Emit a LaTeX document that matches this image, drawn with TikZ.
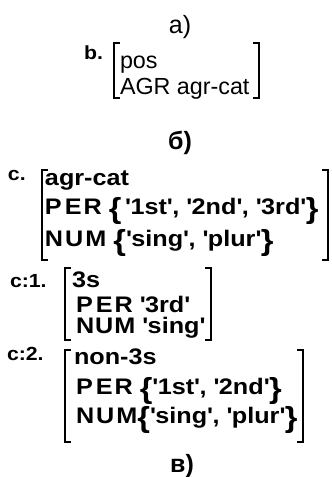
\documentclass[tikz,border=0pt]{standalone}
\usepackage{fontspec}
\setmainfont{Liberation Sans}
\newfontfamily\avmfont{Liberation Sans}[FakeStretch=1.12]
\newcommand{\avmbrace}[1]{\raisebox{-4.5pt}{\fontsize{29}{29}\selectfont#1}}
\newcommand{\sq}{\textquotesingle}

\begin{document}
\begin{tikzpicture}[x=1pt, y=-1pt,
	every node/.style={inner sep=0pt, outer sep=0pt},
	row/.style={anchor=base west, font=\fontsize{23.3}{23.3}\selectfont},
	rowb/.style={anchor=base west, font=\fontsize{22.5}{22.5}\avmfont\bfseries},
	tag/.style={anchor=base west, font=\fontsize{19}{19}\avmfont\bfseries},
	caption/.style={anchor=base, font=\fontsize{25}{25}\selectfont},
	brk/.style={line width=2.8pt, line cap=butt, line join=miter},]

\useasboundingbox (0,0) rectangle (332,477);

% captions
\node[caption] (capa) at (180,33) {а)};
\node[caption, font=\fontsize{25}{25}\selectfont\bfseries] (capb) at (180,149) {б)};
\node[caption, font=\fontsize{25}{25}\selectfont\bfseries] (capc) at (182,472) {в)};

% b.
\node[tag] (tagb) at (84,59) {b.};
\node[row] (bpos) at (120,68) {pos};
\node[row] (bagr) at (120,94) {AGR agr-cat};
\draw[brk] (120,43) -- (114,43) -- (114,98) -- (120,98);
\draw[brk] (253,43) -- (259,43) -- (259,98) -- (253,98);

% c.
\node[tag] (tagc) at (8,180) {c.};
\node[rowb] (ccat) at (45,185) {agr-cat};
\node[rowb] (cper) at (45,214) {P\kern3pt E\kern2pt R \avmbrace{\{}\,\sq 1st\sq, \sq 2nd\sq, \sq 3rd\sq\avmbrace{\}}};
\node[rowb] (cnum) at (45,246) {N\kern2pt U\kern2pt M \avmbrace{\{}\sq sing\sq, \sq plur\sq\avmbrace{\}}};
\draw[brk] (48,170) -- (42,170) -- (42,260) -- (48,260);
\draw[brk] (322,170) -- (328,170) -- (328,260) -- (322,260);

% c:1.
\node[tag] (tagca) at (10,287) {c:1.};
\node[rowb] (cathree) at (72,287) {3s};
\node[rowb] (caper) at (76,312) {P\kern3pt E\kern2pt R \sq 3rd\sq};
\node[rowb] (canum) at (76,333) {N\kern1pt U\kern1pt M \sq sing\sq};
\draw[brk] (71,268) -- (65,268) -- (65,340) -- (71,340);
\draw[brk] (205,268) -- (211,268) -- (211,340) -- (205,340);

% c:2.
\node[tag] (tagcb) at (7,360) {c:2.};
\node[rowb] (cbnon) at (74,364) {non-3s};
\node[rowb] (cbper) at (76,394) {P\kern3pt E\kern2pt R \avmbrace{\{}\sq 1st\sq, \sq 2nd\sq\avmbrace{\}}};
\node[rowb] (cbnum) at (76,423) {N\kern2pt U\kern2pt M\avmbrace{\{}\sq sing\sq, \sq plur\sq\avmbrace{\}}};
\draw[brk] (71,350) -- (65,350) -- (65,442) -- (71,442);
\draw[brk] (297,350) -- (303,350) -- (303,442) -- (297,442);

\end{tikzpicture}
\end{document}
